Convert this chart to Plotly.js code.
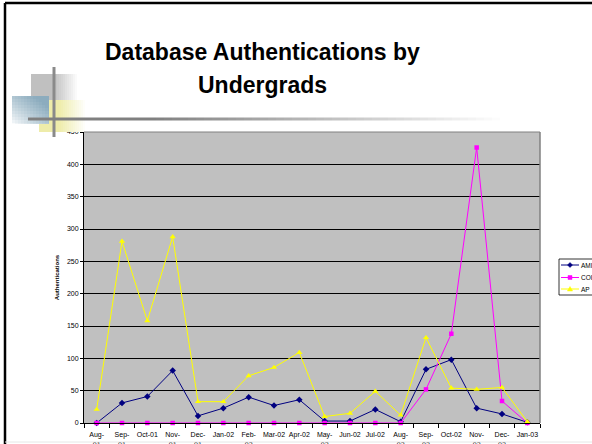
<!DOCTYPE html>
<html>
<head>
<meta charset="utf-8">
<script src="https://cdn.plot.ly/plotly-3.0.1.min.js"></script>
<style>
html,body{margin:0;padding:0;background:#fff;}
#chart{width:592px;height:444px;}
</style>
</head>
<body>
<div id="chart"></div>
<script>
// ---- data ----
var categories = ["Aug-01","Sep-01","Oct-01","Nov-01","Dec-01","Jan-02","Feb-02","Mar-02","Apr-02","May-02","Jun-02","Jul-02","Aug-02","Sep-02","Oct-02","Nov-02","Dec-02","Jan-03"];
var tickLabels = ["Aug-<br>01","Sep-<br>01","Oct-01","Nov-<br>01","Dec-<br>01","Jan-02","Feb-<br>02","Mar-02","Apr-02","May-<br>02","Jun-02","Jul-02","Aug-<br>02","Sep-<br>02","Oct-02","Nov-<br>02","Dec-<br>02","Jan-03"];
var seriesNames = ["AMI","COI","AP"];
var amiValues = [0,31,41,81,11,23,40,27,36,3,3,21,2,83,98,23,14,1];
var coiValues = [0,0,0,0,0,0,0,0,0,0,0,0,0,52,138,426,34,0];
var apValues  = [21,281,158,288,33,33,73,86,109,10,15,49,12,132,54,52,55,2];
var yTicks = [0,50,100,150,200,250,300,350,400,450];
var titleLines = ["Database Authentications by","Undergrads"];

// ---- geometry helpers (pixel -> paper) ----
var L=84, R=540, T=132, B=423;
function X(p){return (p-L)/(R-L);}
function Y(p){return (B-p)/(B-T);}
function lerp(a,b,t){return Math.round(a+(b-a)*t);}
function rgb(c){return 'rgb('+c[0]+','+c[1]+','+c[2]+')';}
function mix(c1,c2,t){return [lerp(c1[0],c2[0],t),lerp(c1[1],c2[1],t),lerp(c1[2],c2[2],t)];}

var shapes = [];
function rect(x0,y0,x1,y1,fill,line){
  shapes.push({type:'rect',xref:'paper',yref:'paper',x0:X(x0),x1:X(x1),y0:Y(y1),y1:Y(y0),
    fillcolor:fill,line:line||{width:0},layer:'above'});
}
function seg(x0,y0,x1,y1,color,w){
  shapes.push({type:'line',xref:'paper',yref:'paper',x0:X(x0),x1:X(x1),y0:Y(y0),y1:Y(y1),
    line:{color:color,width:w},layer:'above'});
}
function pathPx(pts,fill,lc){
  var d='M'+pts.map(function(p){return X(p[0])+','+Y(p[1]);}).join('L')+'Z';
  shapes.push({type:'path',xref:'paper',yref:'paper',path:d,fillcolor:fill,line:{color:lc,width:0.5},layer:'above'});
}

var white=[255,255,255];
// slide frame
seg(5,3,600,3,'#000',2.5);
seg(5,3,5,450,'#000',2.5);
seg(5,442,600,442,'#e6e6e6',1);

// gray square with right fade
var gray=[192,192,192];
for(var x=31;x<77;x+=2){
  var t = x<53?0:(x-53)/24;
  rect(x,74,x+2,100,rgb(mix(gray,white,t)));
}
// yellow rect with right fade
var yel=[238,236,170];
for(var x=39;x<85;x+=2){
  var t = x<58?0:(x-58)/27;
  rect(x,100,x+2,132,rgb(mix(yel,white,t)));
}
// blue square diagonal gradient
var blue=[140,172,190];
for(var x=12;x<49;x+=3){
  for(var y=96;y<124;y+=3){
    var tx=(x-12)/37, ty=(124-y)/28;
    var t=Math.min(1,Math.max(0,(tx+ty)/1.6));
    rect(x,y,Math.min(x+3,49),Math.min(y+3,124),rgb(mix(white,blue,Math.pow(t,0.8))));
  }
}
// vertical decorative line
seg(54,67,54,137,'#8a8a8a',3);
// horizontal gradient line
var lg=[128,128,128];
for(var x=28;x<500;x+=8){
  var t = x<150?0:(x-150)/350;
  seg(x,119,x+8,119,rgb(mix(lg,white,Math.min(1,t))),3);
}

// plot area border (top/right)
seg(84,132,540,132,'#808080',1);
seg(540,132,540,423,'#808080',1.5);

// legend (manual)
rect(559,259,605,295,'#ffffff',{color:'#000',width:0.8});
var legY=[265,277.5,289];
var legCol=['#000080','#ff00ff','#ffff00'];
seg(561,legY[0],579,legY[0],legCol[0],1);
seg(561,legY[1],579,legY[1],legCol[1],1);
seg(561,legY[2],579,legY[2],legCol[2],1);
var cx=570;
pathPx([[cx,legY[0]-2.5],[cx+2.5,legY[0]],[cx,legY[0]+2.5],[cx-2.5,legY[0]]],legCol[0],legCol[0]);
pathPx([[cx-2,legY[1]-2],[cx+2,legY[1]-2],[cx+2,legY[1]+2],[cx-2,legY[1]+2]],legCol[1],legCol[1]);
pathPx([[cx,legY[2]-2.5],[cx+2.6,legY[2]+2],[cx-2.6,legY[2]+2]],legCol[2],legCol[2]);

var F='Liberation Sans, Arial, sans-serif';
var annotations = seriesNames.map(function(n,i){
  return {xref:'paper',yref:'paper',x:X(579.5),y:Y(legY[i]),xanchor:'left',yanchor:'middle',
    text:n,showarrow:false,borderpad:0,font:{family:F,size:6.5,color:'#000'}};
});
var titleY=[52,85];
titleLines.forEach(function(s,i){
  annotations.push({xref:'paper',yref:'paper',x:X(262),y:Y(titleY[i]),xanchor:'center',yanchor:'middle',
    text:'<b>'+s+'</b>',showarrow:false,borderpad:0,font:{family:F,size:23,color:'#000'}});
});

var traces = [
  {x:categories,y:amiValues,name:seriesNames[0],type:'scatter',mode:'lines+markers',
   line:{color:'#000080',width:1},marker:{symbol:'diamond',size:5,color:'#000080'},cliponaxis:false},
  {x:categories,y:coiValues,name:seriesNames[1],type:'scatter',mode:'lines+markers',
   line:{color:'#ff00ff',width:1},marker:{symbol:'square',size:4.5,color:'#ff00ff'},cliponaxis:false},
  {x:categories,y:apValues,name:seriesNames[2],type:'scatter',mode:'lines+markers',
   line:{color:'#ffff00',width:1},marker:{symbol:'triangle-up',size:5.5,color:'#ffff00'},cliponaxis:false}
];

var layout = {
  width:592,height:444,
  margin:{l:L,r:592-R,t:T,b:444-B,pad:0},
  paper_bgcolor:'#ffffff',plot_bgcolor:'#c0c0c0',
  showlegend:false,
  font:{family:F,color:'#000'},
  xaxis:{type:'category',range:[-0.5,17.5],tickvals:categories,ticktext:tickLabels,
    tickson:'boundaries',ticks:'outside',ticklen:4,tickcolor:'#000',tickwidth:1,
    ticklabelstandoff:5,
    showline:true,linecolor:'#000',linewidth:1,showgrid:false,zeroline:false,
    tickfont:{family:F,size:7,color:'#000'},tickangle:0,fixedrange:true},
  yaxis:{range:[0,450],tickvals:yTicks,ticks:'outside',ticklen:3,tickcolor:'#000',
    showline:true,linecolor:'#000',linewidth:1,showgrid:true,gridcolor:'#000',gridwidth:1,
    zeroline:false,tickfont:{family:F,size:7,color:'#000'},
    title:{text:'<b>Authentications</b>',font:{family:F,size:6,color:'#000'},standoff:6},
    fixedrange:true},
  shapes:shapes,
  annotations:annotations
};

Plotly.newPlot('chart',traces,layout,{staticPlot:true,displayModeBar:false});
</script>
</body>
</html>
